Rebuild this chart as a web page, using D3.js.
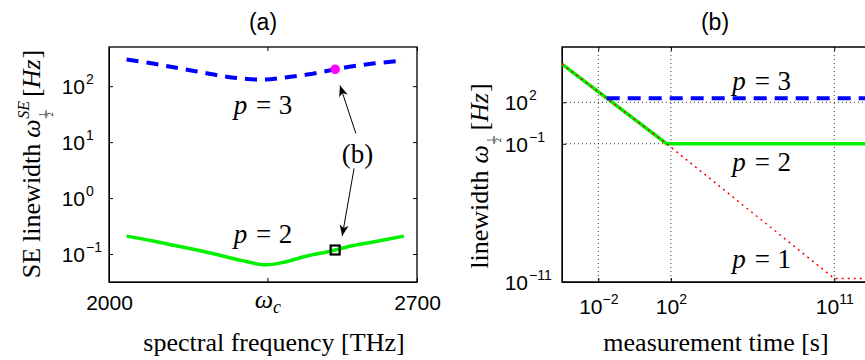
<!DOCTYPE html>
<html>
<head>
<meta charset="utf-8">
<script src="https://cdn.jsdelivr.net/npm/d3@7"></script>
<style>
  html, body { margin: 0; padding: 0; background: #fff; }
  svg { display: block; }
</style>
</head>
<body>
<div id="chart"></div>
<script>
// ---- panel (a) data: spectral frequency [THz] vs SE linewidth [Hz]
const freq = [2040, 2100, 2150, 2200, 2250, 2300, 2355, 2400, 2450, 2500, 2550, 2600, 2670];
const p3Width = [299, 254, 215, 183, 155, 137, 131, 143, 161, 190, 224, 254, 287];
const p2Width = [0.209, 0.171, 0.142, 0.118, 0.096, 0.077, 0.064, 0.072, 0.092, 0.111, 0.139, 0.164, 0.209];
const freqTicks = [2000, 2360, 2700];
const widthTicksA = [100, 10, 1, 0.1];
const markFreq = 2514;          // the frequency picked for panel (b)
const markP3 = 200, markP2 = 0.118;

// ---- panel (b) data: measurement time [s] vs linewidth [Hz]
const p2Time = [1e-4, 58, 1e13];
const p2Line = [5.8e4, 0.1, 0.1];
const p1Time = [1e-4, 58, 1e11, 1e13];
const p1Line = [5.8e4, 0.1, 1.8e-11, 1.8e-11];
const p3Time = [0.029, 1e13];
const p3Line = [200, 200];
const timeTicks = [1e-2, 1e2, 1e11];
const widthTicksB = [1e2, 1e-1, 1e-11];

const W = 865, H = 360;
const SANS = "'Liberation Sans', Arial, sans-serif";
const SERIF = "'Liberation Serif', 'Times New Roman', serif";
const GREEN = '#00f000', BLUE = '#0000ff', RED = '#ff0000';

const svg = d3.select('#chart').append('svg')
  .attr('width', W).attr('height', H)
  .attr('viewBox', `0 0 ${W} ${H}`);

const expText = v => {
  const e = Math.round(Math.log10(v));
  return e < 0 ? '\u2212' + (-e) : String(e);
};

// writes pieces one after another along a baseline, returns total width
function mathRun(g, pieces) {
  let x = 0;
  pieces.forEach(p => {
    if (p.frac) {
      // small stacked 1 over 2
      const w = 7;
      g.append('text').attr('x', x + w / 2 + 1).attr('y', 4.8)
        .attr('text-anchor', 'middle').attr('font-family', SERIF).attr('font-size', 8.5).text('1');
      g.append('line').attr('x1', x + 0.5).attr('x2', x + w + 1.5)
        .attr('y1', 6).attr('y2', 6).attr('stroke', '#000').attr('stroke-width', 0.9);
      g.append('text').attr('x', x + w / 2 + 1).attr('y', 12.5)
        .attr('text-anchor', 'middle').attr('font-family', SERIF).attr('font-size', 8.5).text('2');
      if (!p.overlay) x += w + 2 + (p.gap || 0);
      return;
    }
    const t = g.append('text').attr('x', x).attr('y', p.dy || 0)
      .attr('font-family', SERIF).attr('font-size', p.size)
      .attr('font-style', p.italic ? 'italic' : 'normal')
      .text(p.t);
    x += t.node().getComputedTextLength() + (p.gap || 0);
  });
  return x;
}

function mathLabel(parent, cx, cy, rotate, pieces) {
  const outer = parent.append('g').attr('transform', `translate(${cx},${cy}) rotate(${rotate})`);
  const g = outer.append('g');
  const w = mathRun(g, pieces);
  g.attr('transform', `translate(${-w / 2},0)`);
  return outer;
}

function pLabel(parent, x, y, n) {
  const t = parent.append('text').attr('x', x).attr('y', y)
    .attr('text-anchor', 'middle').attr('font-family', SERIF).attr('font-size', 27);
  t.append('tspan').attr('font-style', 'italic').text('p');
  t.append('tspan').attr('dx', '0.33em').text('=');
  t.append('tspan').attr('dx', '0.28em').text(n);
}

function frameTicks(g, x, y, xt, yt) {
  // mirrored inward ticks on top and right, as on a boxed axes
  g.append('g').attr('transform', `translate(0,${y.range()[1]})`)
    .call(d3.axisTop(x).tickValues(xt).tickSizeInner(-4).tickSizeOuter(0).tickFormat(''))
    .call(a => a.select('.domain').remove());
  g.append('g').attr('transform', `translate(${x.range()[1]},0)`)
    .call(d3.axisRight(y).tickValues(yt).tickSizeInner(-4).tickSizeOuter(0).tickFormat(''))
    .call(a => a.select('.domain').remove());
}

// ================= panel (a) =================
const A = { left: 109, right: 417, top: 47, bottom: 282 };
const xA = d3.scaleLinear().domain([2000, 2700]).range([A.left, A.right]);
const yA = d3.scaleLog().domain([Math.pow(10, -1.5), Math.pow(10, 2.7)]).range([A.bottom, A.top]);
const gA = svg.append('g');

// y axis
const yAxA = gA.append('g').attr('transform', `translate(${A.left},0)`)
  .call(d3.axisLeft(yA).tickValues(widthTicksA).tickSizeInner(-4).tickSizeOuter(0).tickFormat(''));
yAxA.selectAll('.tick').each(function (d) {
  const t = d3.select(this);
  t.append('text').attr('x', -24).attr('y', 7.5).attr('text-anchor', 'end')
    .attr('font-family', SANS).attr('font-size', 21).attr('fill', '#000').text('10');
  t.append('text').attr('x', -23).attr('y', -2.5).attr('text-anchor', 'start')
    .attr('font-family', SANS).attr('font-size', 14).attr('fill', '#000').text(expText(d));
});

// x axis
const xAxA = gA.append('g').attr('transform', `translate(0,${A.bottom})`)
  .call(d3.axisBottom(xA).tickValues(freqTicks).tickSizeInner(-4).tickSizeOuter(0)
    .tickFormat(d => (d === 2000 || d === 2700) ? d : ''));
xAxA.selectAll('.tick text').attr('font-family', SANS).attr('font-size', 21)
  .attr('y', 28).attr('dy', 0).attr('fill', '#000');
xAxA.selectAll('.tick').filter(d => d === 2360).append('text')
  .attr('y', 26).attr('text-anchor', 'middle').attr('fill', '#000')
  .attr('font-family', SERIF).attr('font-size', 26)
  .call(t => {
    t.append('tspan').attr('font-style', 'italic').text('\u03c9');
    t.append('tspan').attr('font-style', 'italic').attr('font-size', 18).attr('dy', 5).text('c');
  });
frameTicks(gA, xA, yA, freqTicks, widthTicksA);
gA.selectAll('.domain').attr('stroke', '#000');
gA.append('rect').attr('x', A.left).attr('y', A.top)
  .attr('width', A.right - A.left).attr('height', A.bottom - A.top)
  .attr('fill', 'none').attr('stroke', '#000').attr('stroke-width', 1.3);

const lineA = ys => d3.line().curve(d3.curveCatmullRom)
  .x((d, i) => xA(freq[i])).y((d, i) => yA(ys[i]))(ys);

gA.append('path').attr('d', lineA(p3Width)).attr('fill', 'none')
  .attr('stroke', BLUE).attr('stroke-width', 4).attr('stroke-dasharray', '12,8');
gA.append('path').attr('d', lineA(p2Width)).attr('fill', 'none')
  .attr('stroke', GREEN).attr('stroke-width', 3.5);

gA.append('circle').attr('cx', xA(markFreq)).attr('cy', yA(markP3)).attr('r', 4.8)
  .attr('fill', '#ff00ff');
gA.append('rect').attr('x', xA(markFreq) - 4.5).attr('y', yA(markP2) - 4.5)
  .attr('width', 9).attr('height', 9).attr('fill', 'none')
  .attr('stroke', '#000').attr('stroke-width', 2.2);

pLabel(gA, xA(2350), yA(32), '3');
pLabel(gA, xA(2350), yA(0.16), '2');

// "(b)" annotation with two arrows
svg.append('defs').append('marker').attr('id', 'head')
  .attr('viewBox', '-12 -6 14 12').attr('refX', 0).attr('refY', 0)
  .attr('markerWidth', 14).attr('markerHeight', 12).attr('markerUnits', 'userSpaceOnUse')
  .attr('orient', 'auto')
  .append('path').attr('d', 'M0,0 L-11,-4.5 L-8,0 L-11,4.5 Z').attr('fill', '#000');
gA.append('text').attr('x', xA(2565)).attr('y', yA(4.2)).attr('text-anchor', 'middle')
  .attr('font-family', SERIF).attr('font-size', 27).text('(b)');
gA.append('line').attr('x1', xA(2561)).attr('y1', yA(14.3)).attr('x2', xA(2525)).attr('y2', yA(103))
  .attr('stroke', '#000').attr('stroke-width', 1).attr('marker-end', 'url(#head)');
gA.append('line').attr('x1', xA(2557)).attr('y1', yA(3.4)).attr('x2', xA(2530)).attr('y2', yA(0.21))
  .attr('stroke', '#000').attr('stroke-width', 1).attr('marker-end', 'url(#head)');

gA.append('text').attr('x', (A.left + A.right) / 2).attr('y', 30).attr('text-anchor', 'middle')
  .attr('font-family', SANS).attr('font-size', 23).text('(a)');
gA.append('text').attr('x', 274).attr('y', 351).attr('text-anchor', 'middle')
  .attr('font-family', SERIF).attr('font-size', 26).text('spectral frequency [THz]');
mathLabel(gA, 40, 164, -90, [
  { t: 'SE', size: 26, gap: 6 },
  { t: 'linewidth', size: 26, gap: 6 },
  { t: '\u03c9', size: 26, italic: true, gap: 0.5 },
  { frac: true, overlay: true },
  { t: 'SE', size: 16, italic: true, dy: -11, gap: 4 },
  { t: '[', size: 26 },
  { t: 'Hz', size: 26, italic: true, gap: 1 },
  { t: ']', size: 26 }
]);

// ================= panel (b) =================
const B = { left: 562, top: 47, bottom: 282 };
const xB = d3.scaleLog().domain([1e-4, 1e13]).range([B.left, B.left + 17 * 18.15]);
const yB = d3.scaleLog().domain([1e-11, 1e6]).range([B.bottom, B.top]);
const gB = svg.append('g');

// dotted grid
gB.append('g').selectAll('line').data(timeTicks).join('line')
  .attr('x1', d => xB(d)).attr('x2', d => xB(d)).attr('y1', B.top).attr('y2', B.bottom)
  .attr('stroke', '#333').attr('stroke-width', 1).attr('stroke-dasharray', '1,3');
gB.append('g').selectAll('line').data(widthTicksB.filter(d => d > 1e-11)).join('line')
  .attr('x1', B.left).attr('x2', W).attr('y1', d => yB(d)).attr('y2', d => yB(d))
  .attr('stroke', '#333').attr('stroke-width', 1).attr('stroke-dasharray', '1,3');

const yAxB = gB.append('g').attr('transform', `translate(${B.left},0)`)
  .call(d3.axisLeft(yB).tickValues(widthTicksB).tickSizeInner(-4).tickSizeOuter(0).tickFormat(''));
yAxB.selectAll('.tick').each(function (d) {
  const t = d3.select(this);
  t.append('text').attr('x', -34).attr('y', 7.5).attr('text-anchor', 'end')
    .attr('font-family', SANS).attr('font-size', 21).attr('fill', '#000').text('10');
  t.append('text').attr('x', -33).attr('y', -2.5).attr('text-anchor', 'start')
    .attr('font-family', SANS).attr('font-size', 14).attr('fill', '#000').text(expText(d));
});
const xAxB = gB.append('g').attr('transform', `translate(0,${B.bottom})`)
  .call(d3.axisBottom(xB).tickValues(timeTicks).tickSizeInner(-4).tickSizeOuter(0).tickFormat(''));
xAxB.selectAll('.tick').each(function (d) {
  const t = d3.select(this).append('text').attr('y', 32).attr('text-anchor', 'middle')
    .attr('font-family', SANS).attr('font-size', 21).attr('fill', '#000');
  t.append('tspan').text('10');
  t.append('tspan').attr('font-size', 14).attr('dy', -10).text(expText(d));
});
gB.append('g').attr('transform', `translate(0,${B.top})`)
  .call(d3.axisTop(xB).tickValues(timeTicks).tickSizeInner(-4).tickSizeOuter(0).tickFormat(''))
  .call(a => a.select('.domain').remove());
gB.selectAll('.domain').attr('stroke', '#000');
gB.append('path').attr('d', `M${W + 5},${B.top}H${B.left}V${B.bottom}H${W + 5}`)
  .attr('fill', 'none').attr('stroke', '#000').attr('stroke-width', 1.3);

const lineB = (xs, ys) => d3.line().x((d, i) => xB(xs[i])).y((d, i) => yB(ys[i]))(ys);
gB.append('path').attr('d', lineB(p2Time, p2Line)).attr('fill', 'none')
  .attr('stroke', GREEN).attr('stroke-width', 3.5);
gB.append('path').attr('d', lineB(p3Time, p3Line)).attr('fill', 'none')
  .attr('stroke', BLUE).attr('stroke-width', 4).attr('stroke-dasharray', '13,8');
gB.append('path').attr('d', lineB(p1Time, p1Line)).attr('fill', 'none')
  .attr('stroke', RED).attr('stroke-width', 1.5).attr('stroke-dasharray', '2,4');

pLabel(gB, xB(1e7), yB(800), '3');
pLabel(gB, xB(1e7), yB(1e-3), '2');
pLabel(gB, xB(1e7), yB(1e-10), '1');

gB.append('text').attr('x', 715).attr('y', 30).attr('text-anchor', 'middle')
  .attr('font-family', SANS).attr('font-size', 23).text('(b)');
gB.append('text').attr('x', 716).attr('y', 351).attr('text-anchor', 'middle')
  .attr('font-family', SERIF).attr('font-size', 26).text('measurement time [s]');
mathLabel(gB, 488, 176, -90, [
  { t: 'linewidth', size: 26, gap: 7 },
  { t: '\u03c9', size: 26, italic: true, gap: 0.5 },
  { frac: true, gap: 5 },
  { t: '[', size: 26 },
  { t: 'Hz', size: 26, italic: true, gap: 1 },
  { t: ']', size: 26 }
]);
</script>
</body>
</html>
